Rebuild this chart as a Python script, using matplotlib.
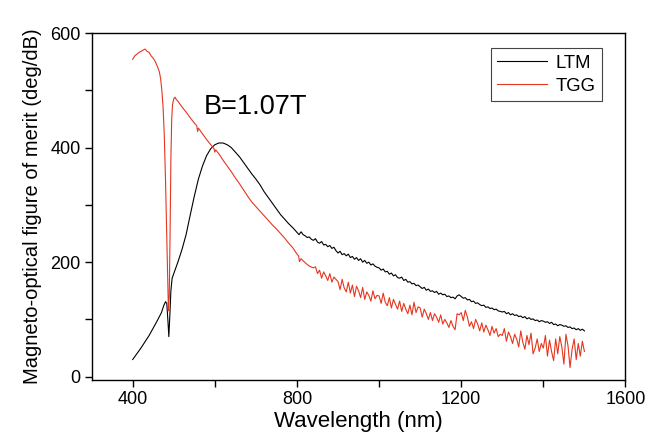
import matplotlib.pyplot as plt
import numpy as np
from matplotlib.ticker import MultipleLocator

plt.rcParams['font.family'] = ['Liberation Sans', 'DejaVu Sans']

# LTM (black) - smooth part
ltm_wl_a = [400, 420, 440, 450, 460, 470, 476, 480, 483, 486, 488, 490, 493, 496, 500,
            510, 520, 530, 540, 550, 560, 570, 580, 590, 600, 610, 620, 630, 640, 650,
            660, 670, 680, 690, 700, 710, 720, 730, 740, 750, 760, 770, 780, 790, 800,
            805, 810, 815]
ltm_val_a = [30, 50, 72, 85, 98, 112, 125, 131, 128, 95, 70, 100, 150, 172, 180,
             200, 222, 248, 282, 315, 345, 368, 386, 398, 405, 408, 408, 405, 400, 392,
             384, 374, 364, 354, 345, 335, 323, 313, 303, 293, 283, 275, 267, 260, 252,
             248, 253, 248]
# LTM noisy tail, 820..1500 every 5 nm
ltm_val_b = [246, 243, 244, 240, 238, 241, 235, 233, 236, 230, 231, 227, 229, 224, 226, 220,
             216, 219, 213, 215, 211, 214, 208, 210, 205, 208, 203, 206, 200, 203, 198, 200, 195, 197, 193, 191,
             190, 186, 188, 183, 184, 179, 181, 176, 178, 173, 172, 174, 168, 170, 165, 166, 162, 163, 159, 160,
             157, 154, 156, 151, 153, 149, 150, 147, 149, 144, 146, 143, 144, 140, 141, 138, 139, 136, 141, 143,
             140, 137, 138, 134, 135, 131, 132, 128, 129, 126, 124, 125, 121, 122, 119, 120, 117, 118, 115, 114,
             113, 114, 110, 112, 108, 110, 107, 108, 105, 106, 103, 105, 101, 103, 100, 101, 98, 99, 96, 98,
             97, 95, 96, 93, 95, 91, 92, 89, 91, 90, 88, 89, 86, 87, 84, 85, 82, 84, 81, 83, 80]

# TGG (red) - smooth part
tgg_wl_a = [400, 405, 410, 415, 420, 425, 430, 435, 440, 445, 450, 455, 460, 465, 468,
            471, 474, 477, 480, 483, 485, 487, 489, 491, 493, 495, 497, 500, 503, 506,
            510, 520, 530, 540, 550, 556, 558, 560, 570, 580, 590, 598, 600, 602, 610,
            620, 630, 640, 650, 660, 670, 680, 690, 700, 710, 720, 730, 740, 750, 760,
            770, 780, 790, 800, 804, 806, 810, 820, 830, 840]
tgg_val_a = [554, 560, 563, 566, 568, 570, 572, 568, 566, 560, 556, 550, 542, 532, 520,
             500, 470, 420, 340, 240, 170, 115, 140, 250, 380, 450, 475, 485, 488, 484,
             481, 471, 462, 452, 443, 438, 428, 434, 424, 414, 405, 398, 392, 396, 389,
             378, 368, 358, 347, 337, 326, 315, 305, 297, 289, 281, 273, 265, 258, 250,
             242, 233, 225, 214, 211, 201, 206, 199, 193, 190]
# TGG noisy tail, 845..1500 every 5 nm
tgg_val_b = [192, 180, 186, 172, 183, 176, 168, 180, 165, 174, 170,
             166, 152, 170, 155, 148, 165, 146, 160, 140, 158, 150, 138, 156, 135, 148, 142, 132, 150, 136, 142,
             141, 128, 146, 130, 124, 138, 120, 135, 126, 118, 132, 114, 128, 118, 110, 125, 108, 130, 112, 122,
             120, 104, 118, 110, 100, 112, 98, 110, 104, 95, 108, 92, 100, 94, 86, 98, 88, 82, 110, 108,
             112, 98, 116, 104, 88, 96, 84, 100, 92, 80, 94, 78, 90, 82, 72, 88, 76, 84, 70, 74,
             72, 84, 62, 78, 70, 58, 74, 66, 52, 80, 60, 48, 72, 56, 76, 40, 50, 66, 44, 58,
             50, 72, 36, 64, 44, 28, 66, 40, 70, 52, 22, 74, 54, 16, 48, 66, 30, 58, 36, 62, 44]

ltm_wl = ltm_wl_a + list(range(820, 1501, 5))
ltm_val = ltm_val_a + ltm_val_b
tgg_wl = tgg_wl_a + list(range(845, 1501, 5))
tgg_val = tgg_val_a + tgg_val_b

fig = plt.figure(figsize=(6.64, 4.40), dpi=100)
ax = fig.add_axes([0.138, 0.136, 0.804, 0.789])

ax.plot(ltm_wl, ltm_val, color='black', lw=0.8, label='LTM')
ax.plot(tgg_wl, tgg_val, color='#e5361e', lw=0.8, label='TGG')

ax.set_xlim(300, 1600)
ax.set_ylim(-6, 600)
ax.xaxis.set_major_locator(MultipleLocator(400))
ax.xaxis.set_minor_locator(MultipleLocator(200))
ax.yaxis.set_major_locator(MultipleLocator(200))
ax.yaxis.set_minor_locator(MultipleLocator(100))
ax.tick_params(which='both', direction='out', length=5, width=1, labelsize=13, pad=3)

for s in ax.spines.values():
    s.set_linewidth(1.0)

ax.set_xlabel('Wavelength (nm)', fontsize=16, labelpad=2)
ax.set_ylabel('Magneto-optical figure of merit (deg/dB)', fontsize=14.5, labelpad=6)

ax.text(572, 458, 'B=1.07T', fontsize=19.5)

leg = ax.legend(loc='upper left', bbox_to_anchor=(491 / 664, 1 - 48.5 / 440),
                bbox_transform=fig.transFigure, fontsize=13.3, fancybox=False,
                edgecolor='#444444', framealpha=1, handlelength=2.7,
                handletextpad=0.45, borderpad=0.35, labelspacing=0.3,
                borderaxespad=0)
leg.get_frame().set_linewidth(0.8)

fig.savefig('out.png', dpi=100)
